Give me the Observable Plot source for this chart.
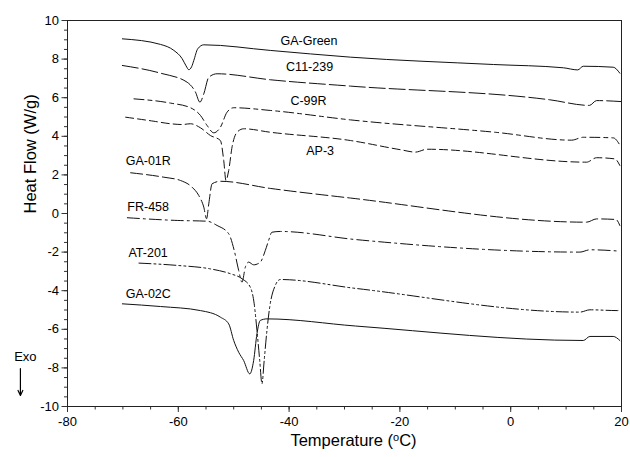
<!DOCTYPE html>
<html><head><meta charset="utf-8">
<script src="https://cdn.jsdelivr.net/npm/d3@7"></script>
<script src="https://cdn.jsdelivr.net/npm/@observablehq/plot@0.6"></script>
<style>body{margin:0;background:#fff}</style>
</head><body><div id="chart"></div>
<script>
// Series data: temperature (°C) and heat flow (W/g)
const gaGreenT  = [-70.1,-63.2,-60.8,-59.3,-58.6,-58.1,-57.6,-57.2,-56.5,-55.4,-43.4,-28.9,-3.1,9.5,12.1,13.1,18.5,19.7];
const gaGreenHF = [9.05,8.76,8.45,8.02,7.65,7.45,7.6,7.93,8.53,8.74,8.45,8.10,7.72,7.55,7.44,7.63,7.58,7.27];

const c11T  = [-70.1,-63.2,-58.4,-56.9,-56.1,-55.4,-54.5,-53.0,-43.4,-28.9,7.1,14.2,15.5,19.9];
const c11HF = [7.67,7.27,6.80,6.29,5.77,6.20,7.06,7.24,6.93,6.60,5.89,5.60,5.85,5.80];

const c99T  = [-68.0,-61.4,-57.8,-56.0,-54.8,-53.6,-52.4,-51.2,-50.0,-43.4,-28.9,-2.5,11.0,13.1,18.5,19.7];
const c99HF = [5.94,5.72,5.48,5.08,4.56,4.18,4.47,5.25,5.48,5.34,4.85,4.2,3.8,3.95,3.92,3.55];

const ap3T  = [-69.5,-64.4,-61.4,-59.3,-57.8,-56.0,-54.2,-52.4,-51.8,-51.4,-50.9,-50.3,-49.4,-48.2,-43.4,-28.9,-19.8,-17.2,-15.1,13.7,15.5,18.8,19.7];
const ap3HF = [4.99,4.78,4.65,4.61,4.65,4.44,4.04,3.78,2.75,1.71,2.23,3.44,4.21,4.39,4.21,3.78,3.30,3.18,3.33,2.66,2.89,2.83,2.49];

const ga01T  = [-68.6,-62.6,-59.6,-57.5,-56.3,-55.4,-54.9,-54.5,-53.9,-52.4,-43.4,-28.9,13.7,15.5,19.0,19.7];
const ga01HF = [2.11,1.88,1.71,1.36,0.93,0.33,-0.27,0.50,1.54,1.67,1.30,0.80,-0.45,-0.28,-0.31,-0.62];

const fr458T  = [-69.2,-60.2,-54.8,-53.0,-50.9,-49.9,-49.1,-48.5,-47.9,-47.3,-46.4,-45.2,-44.3,-43.7,-43.1,-41.6,-28.0,12.5,14.3,19.7];
const fr458HF = [-0.22,-0.36,-0.40,-0.62,-1.05,-1.92,-2.95,-3.56,-2.78,-2.52,-2.66,-2.52,-1.92,-1.40,-0.97,-0.93,-1.35,-2.0,-1.88,-1.95];

const at201T  = [-67.1,-60.2,-54.2,-50.6,-48.5,-47.0,-46.3,-45.8,-45.3,-44.9,-44.5,-44.0,-43.5,-42.5,-41.6,-28.0,12.5,14.3,19.3,19.7];
const at201HF = [-2.57,-2.69,-2.87,-3.12,-3.38,-3.82,-4.68,-6.06,-7.62,-8.82,-7.62,-6.06,-4.85,-3.73,-3.42,-3.88,-5.11,-4.99,-5.03,-4.96];

const ga02T  = [-70.1,-63.2,-56.0,-52.4,-50.9,-50.0,-49.1,-48.2,-47.1,-46.4,-45.8,-45.2,-44.0,-28.0,13.1,14.3,18.5,19.7];
const ga02HF = [-4.68,-4.82,-5.03,-5.37,-5.72,-6.58,-7.19,-7.62,-8.31,-7.62,-6.23,-5.54,-5.46,-5.83,-6.58,-6.37,-6.37,-6.58];

const seriesNames = ["GA-Green","C11-239","C-99R","AP-3","GA-01R","FR-458","AT-201","GA-02C"];
const seriesT  = [gaGreenT, c11T, c99T, ap3T, ga01T, fr458T, at201T, ga02T];
const seriesHF = [gaGreenHF, c11HF, c99HF, ap3HF, ga01HF, fr458HF, at201HF, ga02HF];
const seriesDash = [null, "16,4", "10,4,4,4", "8,4", "12,4", "12,4,2,4", "12,3,2,3,2,3", null];

// Label anchors (data coordinates)
const labelT  = [-36.4,-36.3,-36.5,-34.4,-69.5,-69.2,-69.0,-69.5];
const labelHF = [8.96,7.59,5.85,3.26,2.72,0.36,-2.07,-4.15];
const labelAnchor = ["middle","middle","middle","middle","start","start","start","start"];

const xTicks = [-80,-60,-40,-20,0,20];
const yTicks = [-10,-8,-6,-4,-2,0,2,4,6,8,10];

// Exo annotation
const exoText = {T: -87.6, HF: -7.41};
const exoArrow = {T: -88.5, HF1: -8.03, HF2: -9.43};

const rows = seriesNames.flatMap((name, i) =>
  seriesT[i].map((t, j) => ({name, T: t, HF: seriesHF[i][j]})));
const labels = seriesNames.map((name, i) => ({name, T: labelT[i], HF: labelHF[i], anchor: labelAnchor[i]}));

const lineMarks = seriesNames.map((name, i) =>
  Plot.line(rows.filter(d => d.name === name), {
    x: "T", y: "HF", stroke: "#111", strokeWidth: 1, curve: "monotone-x",
    strokeDasharray: seriesDash[i] || undefined
  }));

const font = "'Liberation Sans', Arial, Helvetica, sans-serif";
const fmt = d => String(d);

const chart = Plot.plot({
  width: 630, height: 457,
  marginLeft: 67, marginRight: 9, marginTop: 20, marginBottom: 51,
  x: {domain: [-80, 20]},
  y: {domain: [-10, 10]},
  style: {fontFamily: font, fontSize: "12px", color: "#000", background: "#fff"},
  marks: [
    Plot.axisX({ticks: d3.range(-80, 21, 5), tickSize: 3.5, tickFormat: () => "", label: null, stroke: "#333"}),
    Plot.axisX({ticks: xTicks, tickSize: 6, tickPadding: 4, tickFormat: fmt, label: null, fontSize: 13, stroke: "#333"}),
    Plot.axisY({ticks: d3.range(-10, 10.01, 0.5), tickSize: 3, tickFormat: () => "", label: null, stroke: "#333"}),
    Plot.axisY({ticks: yTicks, tickSize: 5.5, tickPadding: 3, tickFormat: fmt, label: null, fontSize: 13, stroke: "#333"}),
    ...lineMarks,
    Plot.frame({stroke: "#222"}),
    Plot.text(labels.filter(d => d.anchor === "middle"), {x: "T", y: "HF", text: "name", fontSize: 12.5, textAnchor: "middle"}),
    Plot.text(labels.filter(d => d.anchor === "start"), {x: "T", y: "HF", text: "name", fontSize: 12.5, textAnchor: "start"}),
    Plot.text(["Heat Flow (W/g)"], {frameAnchor: "left", dx: -37, rotate: -90, text: d => d, fontSize: 16.5}),
    Plot.text(["Temperature (oC)"], {frameAnchor: "bottom", dx: 9, dy: 39, text: d => d, fontSize: 16.5}),
    Plot.text([exoText], {x: "T", y: "HF", text: () => "Exo", fontSize: 13}),
    Plot.arrow([exoArrow], {x1: "T", x2: "T", y1: "HF1", y2: "HF2", stroke: "#000", strokeWidth: 1.2, headLength: 7, headAngle: 50})
  ]
});

// Superscript "o" in the x-axis title
for (const t of chart.querySelectorAll("text")) {
  if (t.textContent === "Temperature (oC)") {
    const host = t.querySelector("tspan") || t;
    host.textContent = "";
    const ns = "http://www.w3.org/2000/svg";
    const a = document.createElementNS(ns, "tspan"); a.textContent = "Temperature (";
    const b = document.createElementNS(ns, "tspan"); b.textContent = "o"; b.setAttribute("dy", "-5"); b.setAttribute("font-size", "11");
    const c = document.createElementNS(ns, "tspan"); c.textContent = "C)"; c.setAttribute("dy", "5");
    host.append(a, b, c);
  }
}
document.getElementById("chart").append(chart);
</script>
</body></html>
